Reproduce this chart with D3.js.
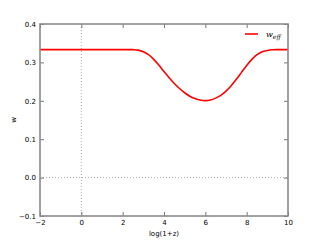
<!DOCTYPE html>
<html><head><meta charset="utf-8">
<script src="https://cdn.jsdelivr.net/npm/d3@7"></script>
<style>body{margin:0;background:#fff}svg{display:block}</style>
</head><body>
<svg id="c" width="320" height="240"></svg>
<script>
const logz = [-2,-1,0,1,2,2.5,2.75,3,3.25,3.5,3.75,4,4.25,4.5,4.75,5,5.25,5.5,5.75,6,6.25,6.5,6.75,7,7.25,7.5,7.75,8,8.25,8.5,8.75,9,9.25,9.5,10];
const weff = [0.3333,0.3333,0.3333,0.3333,0.3333,0.3332,0.332,0.328,0.320,0.308,0.293,0.276,0.260,0.245,0.232,0.221,0.212,0.206,0.202,0.2005,0.202,0.207,0.214,0.225,0.239,0.256,0.274,0.292,0.308,0.320,0.328,0.331,0.3328,0.3332,0.3333];
const xTicks = [-2,0,2,4,6,8,10];
const yTicks = [-0.1,0.0,0.1,0.2,0.3,0.4];
const seriesName = "w";
const seriesSub = "eff";

const svg = d3.select("#c");
const L=40,R=288,T=24,B=216;
const x = d3.scaleLinear().domain([-2,10]).range([L,R]);
const y = d3.scaleLinear().domain([-0.1,0.4]).range([B,T]);
const font = "DejaVu Sans, sans-serif";

svg.append("line").attr("x1",x(0)).attr("x2",x(0)).attr("y1",T).attr("y2",B)
  .attr("stroke","#999").attr("stroke-width",0.8).attr("stroke-dasharray","1,2");
svg.append("line").attr("x1",L).attr("x2",R).attr("y1",y(0)).attr("y2",y(0))
  .attr("stroke","#999").attr("stroke-width",0.8).attr("stroke-dasharray","1,2");

const line = d3.line().x((d,i)=>x(logz[i])).y(d=>y(d)).curve(d3.curveCatmullRom);
svg.append("path").datum(weff).attr("d",line).attr("fill","none")
  .attr("stroke","#ff0000").attr("stroke-width",1.6);

const fmtY = v => d3.format(".1f")(v).replace("-","\u2212");
const fmtX = v => String(v).replace("-","\u2212");
const ax = [
  svg.append("g").attr("transform",`translate(0,${B})`).call(d3.axisBottom(x).tickValues(xTicks).tickFormat(fmtX).tickSizeInner(-4).tickSizeOuter(0).tickPadding(4)),
  svg.append("g").attr("transform",`translate(0,${T})`).call(d3.axisTop(x).tickValues(xTicks).tickFormat("").tickSizeInner(-4).tickSizeOuter(0)),
  svg.append("g").attr("transform",`translate(${L},0)`).call(d3.axisLeft(y).tickValues(yTicks).tickFormat(fmtY).tickSizeInner(-4).tickSizeOuter(0).tickPadding(4)),
  svg.append("g").attr("transform",`translate(${R},0)`).call(d3.axisRight(y).tickValues(yTicks).tickFormat("").tickSizeInner(-4).tickSizeOuter(0))
];
ax.forEach(g=>{
  g.select(".domain").remove();
  g.selectAll(".tick line").attr("stroke","#555").attr("stroke-width",0.8);
  g.selectAll("text").attr("font-family",font).attr("font-size",7).attr("fill","#000");
});
svg.append("rect").attr("x",L).attr("y",T).attr("width",R-L).attr("height",B-T)
  .attr("fill","none").attr("stroke","#8a8a8a").attr("stroke-width",1.6);

svg.append("text").attr("x",(L+R)/2).attr("y",236).attr("text-anchor","middle")
  .attr("font-family",font).attr("font-size",7).text("log(1+z)");
svg.append("text").attr("transform","translate(16,120) rotate(-90)").attr("text-anchor","middle")
  .attr("font-family",font).attr("font-size",7).text("w");

svg.append("line").attr("x1",245).attr("x2",258).attr("y1",34).attr("y2",34)
  .attr("stroke","#ff0000").attr("stroke-width",1.6);
const lt = svg.append("text").attr("x",266).attr("y",37).attr("font-family","DejaVu Serif, serif")
  .attr("font-size",8).attr("font-style","italic");
lt.append("tspan").text(seriesName);
lt.append("tspan").attr("font-size",6).attr("dy",1.5).text(seriesSub);
</script>
</body></html>
